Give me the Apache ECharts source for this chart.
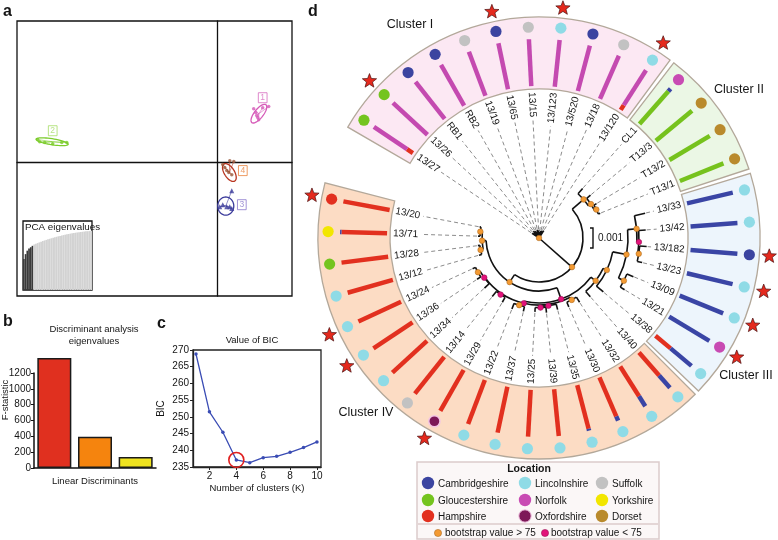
<!DOCTYPE html>
<html><head><meta charset="utf-8">
<script src="https://cdn.jsdelivr.net/npm/echarts@6.0.0/dist/echarts.min.js"></script>
<style>html,body{margin:0;padding:0;background:#fff;}#chart{width:778px;height:540px;}</style>
</head><body><div id="chart"></div>
<script>
const FONT = '"Liberation Sans", Arial, Helvetica, sans-serif';

// ================= Panel a : DAPC scatter =================
const dapcGroups = ['1', '2', '3', '4'];
const dapcPoints1 = [[1.79,1.96],[2.24,2.0],[2.54,2.04],[1.94,1.71],[1.89,1.82],[2.04,1.56],[1.99,1.64]];
const dapcPoints2 = [[-8.97,0.84],[-8.62,0.73],[-8.22,0.69],[-7.52,0.73],[-7.77,0.73],[-8.87,0.76]];
const dapcPoints3 = [[0.25,-1.53],[0.45,-1.6],[0.6,-1.6],[0.7,-1.67],[0.1,-1.6],[0.7,-1.02]];
const dapcPoints4 = [[0.25,-0.07],[0.6,0.07],[0.8,0.04],[0.45,-0.29],[0.55,-0.36],[0.7,-0.44],[0.35,-0.18]];
// ellipse: centre x, centre y, half-axis 1 (x,y), half-axis 2 (x,y), group index
const dapcEllipses = [
  [2.05, 1.78, 0.35, 0.325, 0.177, -0.10, 0],
  [-8.25, 0.76, 0.80, -0.09, 0.0, 0.11, 1],
  [0.40, -1.58, 0.40, 0.0, 0.0, 0.33, 2],
  [0.58, -0.36, 0.27, -0.31, 0.21, 0.10, 3]
];
const dapcLabelPos = [[2.24, 2.36], [-8.22, 1.16], [1.2, -1.53], [1.25, -0.29]];
const pcaEigenvalues = [45,52,57,60,62,64, 66,67,68,69,70,71,71.8,72.6,73.4,74.2,75,75.7,76.4,77.1,77.8,78.4,79,79.6,80.2,80.7,81.2,81.7,82.2,82.6,83,83.4,83.8,84.1,84.4,84.7,85,85.2,85.4,85.6];
const pcaRetained = 6;

// ================= Panel b : discriminant eigenvalues =================
const ldNames = ['LD1', 'LD2', 'LD3'];
const ldFstat = [1388, 396, 140];

// ================= Panel c : BIC =================
const bicK = [1, 2, 3, 4, 5, 6, 7, 8, 9, 10];
const bicValues = [268.8, 251.5, 245.4, 237.1, 236.3, 237.8, 238.2, 239.4, 240.8, 242.5];
const bicTicksX = [2, 4, 6, 8, 10];
const bicChosenK = 4;

// ================= Panel d : circular tree =================
const leaves = ['13/27','13/26','RB1','RB2','13/19','13/65','13/15','13/123','13/520','13/18','13/120',
  'CL1','T13/3','T13/2','T13/1',
  '13/33','13/42','13/182','13/23','13/09','13/21','13/38',
  '13/40','13/32','13/30','13/35','13/39','13/25','13/37','13/22','13/29','13/14','13/34','13/36','13/24','13/12','13/28','13/71','13/20'];
const clusterNames = ['Cluster I', 'Cluster II', 'Cluster III', 'Cluster IV'];
const leafCluster = [0,0,0,0,0,0,0,0,0,0,0, 1,1,1,1, 2,2,2,2,2,2,2, 3,3,3,3,3,3,3,3,3,3,3,3,3,3,3,3,3];
const leafLocation = ['Gloucestershire','Gloucestershire','Cambridgeshire','Cambridgeshire','Suffolk','Cambridgeshire','Suffolk','Lincolnshire','Cambridgeshire','Suffolk','Lincolnshire',
  'Norfolk','Dorset','Dorset','Dorset',
  'Lincolnshire','Lincolnshire','Cambridgeshire','Lincolnshire','Lincolnshire','Norfolk','Lincolnshire',
  'Lincolnshire','Lincolnshire','Lincolnshire','Lincolnshire','Lincolnshire','Lincolnshire','Lincolnshire','Lincolnshire','Oxfordshire','Suffolk','Lincolnshire','Lincolnshire','Lincolnshire','Lincolnshire','Gloucestershire','Yorkshire','Hampshire'];
// cluster membership proportions (stacked from the inside out: IV, I, II, III)
const memIV  = [0.15,0,0,0,0,0,0,0,0,0,0.12, 0,0,0,0, 0,0,0,0,0,0,0.42, 0.65,0.75,0.9,0.96,1,1,1,1,1,1,1,1,1,1,1,0.97,1];
const memI   = [0.85,1,1,1,1,1,1,1,1,1,0.88, 0,0,0,0, 0,0,0,0,0,0,0, 0,0,0,0,0,0,0,0,0,0,0,0,0,0,0,0,0];
const memII  = [0,0,0,0,0,0,0,0,0,0,0, 0.93,1,1,1, 0,0,0,0,0,0,0, 0,0,0,0,0,0,0,0,0,0,0,0,0,0,0,0,0];
const memIII = [0,0,0,0,0,0,0,0,0,0,0, 0.07,0,0,0, 1,1,1,1,1,1,0.58, 0.35,0.25,0.1,0.04,0,0,0,0,0,0,0,0,0,0,0,0.03,0];
const starredLeaves = ['13/26','13/65','13/123','13/120','13/182','13/23','13/09','13/21','13/29','13/36','13/24','13/20'];
// tree: node, parent, distance from root (x0.001 subst./site), bootstrap
const treeNodes = [
  ['root', null, 0, 90],
  ['nI', 'root', 0.12, null],
  ['13/27','nI',0.42,null],['13/26','nI',0.38,null],['RB1','nI',0.45,null],['RB2','nI',0.4,null],
  ['13/19','nI',0.35,null],['13/65','nI',0.42,null],['13/15','nI',0.38,null],['13/123','nI',0.3,null],
  ['13/520','nI',0.36,null],['13/18','nI',0.4,null],['13/120','nI',0.44,null],
  ['nA','root',2.2,96],
  ['nB','nA',2.95,92],
  ['CL1','nB',3.3,null],
  ['nB1','nB',3.1,88],
  ['T13/3','nB1',3.35,null],
  ['nB2','nB1',3.2,86],
  ['T13/2','nB2',3.35,null],['T13/1','nB2',3.3,null],
  ['nD','nA',2.65,90],
  ['nF','nD',3.25,62],
  ['nH','nF',3.55,84],
  ['13/40','nH',3.9,null],
  ['nH1','nH',3.75,88],
  ['13/38','nH1',4.2,null],
  ['nC3','nH1',4.45,90],
  ['nC3a','nC3',4.9,86],
  ['13/33','nC3a',5.45,null],
  ['nC3a1','nC3a',5.0,58],
  ['13/42','nC3a1',5.35,null],
  ['nC3a2','nC3a1',5.05,85],
  ['13/182','nC3a2',5.4,null],['13/23','nC3a2',5.3,null],
  ['nC3b','nC3',4.75,84],
  ['13/09','nC3b',5.1,null],['13/21','nC3b',5.0,null],
  ['nG','nF',3.35,55],
  ['nG1','nG',3.5,84],
  ['13/32','nG1',3.8,null],['13/30','nG1',3.75,null],
  ['nG2','nG',3.42,60],
  ['13/35','nG2',3.7,null],
  ['nG3','nG2',3.48,52],
  ['13/39','nG3',3.75,null],['13/25','nG3',3.7,null],
  ['nG4','nG',3.5,86],
  ['13/37','nG4',3.75,null],['13/22','nG4',3.8,null],
  ['nG5','nG',3.42,64],
  ['13/29','nG5',3.7,null],['13/14','nG5',3.75,null],
  ['nG6','nG',3.38,58],
  ['13/34','nG6',3.7,null],
  ['nG7','nG6',3.5,85],
  ['13/36','nG7',3.72,null],['13/24','nG7',3.66,null],
  ['nE','nD',2.85,91],
  ['nE2','nE',2.98,82],
  ['13/12','nE2',3.12,null],['13/28','nE2',3.08,null],
  ['nE1','nE',2.95,87],
  ['13/71','nE1',3.05,null],['13/20','nE1',3.02,null]
];
const scaleBarValue = 1; // 0.001
const locations = ['Cambridgeshire','Lincolnshire','Suffolk','Gloucestershire','Norfolk','Yorkshire','Hampshire','Oxfordshire','Dorset'];

// ---------------- styles ----------------
const locColor = {Cambridgeshire:'#3b44a0', Lincolnshire:'#8fdbe6', Suffolk:'#c2c2c2', Gloucestershire:'#74c41f',
  Norfolk:'#c84bb3', Yorkshire:'#f2e600', Hampshire:'#e2301f', Oxfordshire:'#7d1858', Dorset:'#b98a2c'};
const clusterFill = ['#fce8f3', '#ebf7e5', '#edf5fc', '#fcdcc4'];
const stackSeries = [memIV, memI, memII, memIII];
const stackColors = ['#e2301f', '#c44ab0', '#76c21d', '#3a45a5'];
const dapcColors = ['#d65cb9', '#7ccc2c', '#3b3b9b', '#b8341f'];
const dapcLabelColors = ['#d76bbf', '#a6dd66', '#8a78cc', '#e8823c'];
const CENTER = [539, 238];
const LABEL_R = 146, DOT_R = 211, STAR_R = 231, SECT_R0 = 149, SECT_R = 221;

const mctx = document.createElement('canvas').getContext('2d');
mctx.font = '10px ' + FONT;
const tw = s => mctx.measureText(s).width;

function leafAngles(api, cx, cy) {
  const out = [];
  for (let i = 0; i < leaves.length; i++) {
    const p = api.coord([1, i]);
    let a = Math.atan2(p[1] - cy, p[0] - cx);
    if (i > 0) { while (a < out[i - 1]) a += 2 * Math.PI; }
    out.push(a);
  }
  return out;
}

function starPoints(x, y, R, r) {
  const pts = [];
  for (let k = 0; k < 10; k++) {
    const a = -Math.PI / 2 + k * Math.PI / 5;
    const rr = k % 2 ? r : R;
    pts.push([x + rr * Math.cos(a), y + rr * Math.sin(a)]);
  }
  return pts;
}

function renderRing(params, api) {
  const cx = CENTER[0], cy = CENTER[1];
  const ang = leafAngles(api, cx, cy);
  const half = (ang[1] - ang[0]) / 2;
  const gap = 0.6 * Math.PI / 180;
  const ch = [];
  for (let k = 0; k < clusterNames.length; k++) {
    const idx = leafCluster.map((c, i) => c === k ? i : -1).filter(i => i >= 0);
    ch.push({type: 'sector', shape: {cx, cy, r0: SECT_R0, r: SECT_R,
      startAngle: ang[idx[0]] - half + gap, endAngle: ang[idx[idx.length - 1]] + half - gap, clockwise: true},
      style: {fill: clusterFill[k], stroke: '#b3a89a', lineWidth: 1.3}});
  }
  leaves.forEach((name, i) => {
    let cum = 0;
    stackSeries.forEach((arr, j) => {
      const v = arr[i];
      if (v > 0) {
        const p0 = api.coord([cum, i]), p1 = api.coord([cum + v, i]);
        ch.push({type: 'line', shape: {x1: p0[0], y1: p0[1], x2: p1[0], y2: p1[1]}, style: {stroke: stackColors[j], lineWidth: 4.5}});
        cum += v;
      }
    });
    const a = ang[i];
    const loc = leafLocation[i];
    ch.push({type: 'circle', shape: {cx: cx + DOT_R * Math.cos(a), cy: cy + DOT_R * Math.sin(a), r: 5.6},
      style: {fill: locColor[loc], stroke: loc === 'Oxfordshire' ? '#f3c6e4' : null, lineWidth: 1.5}});
    if (starredLeaves.indexOf(name) >= 0) {
      ch.push({type: 'polygon', shape: {points: starPoints(cx + STAR_R * Math.cos(a), cy + STAR_R * Math.sin(a), 7.5, 3.2)},
        style: {fill: '#e4291d', stroke: '#4a1010', lineWidth: 0.7}});
    }
  });
  return {type: 'group', children: ch};
}

function renderTree(params, api) {
  const c0 = api.coord([0, 0]);
  const cx = c0[0], cy = c0[1];
  const ang = leafAngles(api, cx, cy);
  const u = api.coord([1, 0]);
  const ppu = Math.hypot(u[0] - cx, u[1] - cy);
  const nodes = {};
  treeNodes.forEach(([id, parent, dist, bs]) => { nodes[id] = {id, parent, dist, bs, children: []}; });
  treeNodes.forEach(([id, parent]) => { if (parent) nodes[parent].children.push(nodes[id]); });
  function angleOf(n) {
    if (n.a !== undefined) return n.a;
    if (!n.children.length) { n.a = ang[leaves.indexOf(n.id)]; }
    else { const as = n.children.map(angleOf); n.min = Math.min(...as); n.max = Math.max(...as); n.a = (n.min + n.max) / 2; }
    return n.a;
  }
  angleOf(nodes.root);
  const pt = (r, a) => [cx + r * Math.cos(a), cy + r * Math.sin(a)];
  const ch = [];
  leaves.forEach((name, i) => {
    const a = ang[i];
    const right = Math.cos(a) > 1e-6;
    const w = tw(name);
    const tip = nodes[name].dist * ppu;
    const p0 = pt(tip + 1, a), p1 = pt(LABEL_R - w - 3, a);
    ch.push({type: 'line', shape: {x1: p0[0], y1: p0[1], x2: p1[0], y2: p1[1]}, style: {stroke: '#8c8c8c', lineWidth: 1, lineDash: [4, 3]}});
    const o = pt(LABEL_R, a);
    ch.push({type: 'text', x: o[0], y: o[1], rotation: right ? -a : -(a + Math.PI),
      style: {text: name, x: 0, y: 0, align: right ? 'right' : 'left', verticalAlign: 'middle', font: '10px ' + FONT, fill: '#151515'}});
  });
  const lineStyle = {stroke: '#111', lineWidth: 1.6, fill: null};
  Object.values(nodes).forEach(n => {
    if (n.parent) {
      const p = nodes[n.parent];
      const a0 = pt(p.dist * ppu, n.a), a1 = pt(n.dist * ppu, n.a);
      ch.push({type: 'line', shape: {x1: a0[0], y1: a0[1], x2: a1[0], y2: a1[1]}, style: lineStyle});
    }
    if (n.children.length > 1 && n.dist > 0) {
      ch.push({type: 'arc', shape: {cx, cy, r: n.dist * ppu, startAngle: n.min, endAngle: n.max, clockwise: true}, style: lineStyle});
    }
  });
  Object.values(nodes).forEach(n => {
    if (n.bs !== null && n.children.length) {
      const p = pt(n.dist * ppu, n.a);
      ch.push({type: 'circle', shape: {cx: p[0], cy: p[1], r: 2.8},
        style: {fill: n.bs >= 75 ? '#f39a33' : '#e2137a', stroke: n.bs >= 75 ? '#a0601a' : '#900a4a', lineWidth: 0.5}});
    }
  });
  const bx = cx + 54, h = scaleBarValue * ppu;
  ch.push({type: 'polyline', shape: {points: [[bx - 3, cy - h / 2], [bx, cy - h / 2], [bx, cy + h / 2], [bx - 3, cy + h / 2]]}, style: {stroke: '#111', lineWidth: 1.4, fill: null}});
  ch.push({type: 'text', x: bx + 5, y: cy, style: {text: (scaleBarValue / 1000).toFixed(3), x: 0, y: 0, align: 'left', verticalAlign: 'middle', font: '10px ' + FONT, fill: '#151515'}});
  return {type: 'group', children: ch};
}

function renderEllipse(params, api) {
  const e = dapcEllipses[params.dataIndex];
  const k = e[6];
  const pts = [];
  for (let t = 0; t < 48; t++) {
    const th = t / 48 * Math.PI * 2;
    pts.push(api.coord([e[0] + e[2] * Math.cos(th) + e[4] * Math.sin(th), e[1] + e[3] * Math.cos(th) + e[5] * Math.sin(th)]));
  }
  const c = api.coord([e[0], e[1]]);
  const grpPts = [dapcPoints1, dapcPoints2, dapcPoints3, dapcPoints4][k];
  const ch = [{type: 'polygon', shape: {points: pts}, style: {fill: null, stroke: dapcColors[k], lineWidth: 1.3}}];
  grpPts.forEach(p => { const q = api.coord(p); ch.push({type: 'line', shape: {x1: c[0], y1: c[1], x2: q[0], y2: q[1]}, style: {stroke: dapcColors[k], lineWidth: 0.7, opacity: 0.8}}); });
  return {type: 'group', children: ch};
}

// ---------------- graphic texts / legend ----------------
const graphics = [];
function gtext(x, y, text, size, opts) {
  graphics.push(Object.assign({type: 'text', x, y, style: Object.assign({text, font: size + 'px ' + FONT, fill: '#151515', align: 'left', verticalAlign: 'top'}, opts && opts.style || {})}, opts && opts.el || {}));
}
gtext(3, 4, 'a', 16, {style: {font: 'bold 16px ' + FONT}});
gtext(3, 314, 'b', 16, {style: {font: 'bold 16px ' + FONT}});
gtext(157, 316, 'c', 16, {style: {font: 'bold 16px ' + FONT}});
gtext(308, 4, 'd', 16, {style: {font: 'bold 16px ' + FONT}});
gtext(94, 323, 'Discriminant analysis\neigenvalues', 9.5, {style: {align: 'center', lineHeight: 12}});
gtext(252, 335, 'Value of BIC', 9.5, {style: {align: 'center'}});
gtext(25, 222, 'PCA eigenvalues', 9.8, {});
gtext(5, 400, 'F-statistic', 9.5, {style: {align: 'center', verticalAlign: 'middle'}, el: {rotation: Math.PI / 2}});
const clusterLabelPos = [[410, 25], [739, 90], [746, 376], [366, 413]];
clusterNames.forEach((n, i) => gtext(clusterLabelPos[i][0], clusterLabelPos[i][1], n, 12.5, {style: {align: 'center', verticalAlign: 'middle'}}));
graphics.push({type: 'rect', shape: {x: 417, y: 462, width: 242, height: 77}, style: {fill: '#fbf7f7', stroke: '#dccbcb', lineWidth: 1.5}});
gtext(529, 469, 'Location', 10.5, {style: {align: 'center', verticalAlign: 'middle', font: 'bold 10.5px ' + FONT}});
const legColX = [428, 525, 602], legRowY = [483, 500, 516];
locations.forEach((loc, k) => {
  const x = legColX[k % 3], y = legRowY[Math.floor(k / 3)];
  graphics.push({type: 'circle', shape: {cx: x, cy: y, r: 6.2}, style: {fill: locColor[loc], stroke: loc === 'Oxfordshire' ? '#f3c6e4' : null, lineWidth: 1}});
  gtext(x + 10, y + 1, loc, 10, {style: {verticalAlign: 'middle'}});
});
graphics.push({type: 'line', shape: {x1: 418, y1: 524, x2: 658, y2: 524}, style: {stroke: '#dccbcb', lineWidth: 1.5}});
graphics.push({type: 'circle', shape: {cx: 438, cy: 533, r: 3.6}, style: {fill: '#f39a33', stroke: '#a0601a', lineWidth: 0.5}});
gtext(445, 533, 'bootstrap value > 75', 10, {style: {verticalAlign: 'middle'}});
graphics.push({type: 'circle', shape: {cx: 545, cy: 533, r: 3.6}, style: {fill: '#e2137a', stroke: '#900a4a', lineWidth: 0.5}});
gtext(551, 533, 'bootstrap value < 75', 10, {style: {verticalAlign: 'middle'}});

const hiddenAxis = {axisLine: {show: false}, axisTick: {show: false}, axisLabel: {show: false}, splitLine: {show: false}};
const angleCommon = Object.assign({type: 'category', data: leaves, startAngle: 150.5, endAngle: -195.04, clockwise: true}, hiddenAxis);

const option = {
  animation: false,
  backgroundColor: '#ffffff',
  textStyle: {fontFamily: FONT, color: '#151515'},
  grid: [
    {left: 17, top: 21, width: 275, height: 275, show: true, borderColor: '#111', borderWidth: 1.3, backgroundColor: 'transparent'},
    {left: 23, top: 221, width: 69, height: 69, show: true, borderColor: '#111', borderWidth: 1.3, backgroundColor: '#fff'},
    {left: 34, top: 373, width: 122, height: 95},
    {left: 193, top: 350, width: 128, height: 117, show: true, borderColor: '#222', borderWidth: 1.3, backgroundColor: 'transparent'}
  ],
  xAxis: [
    {gridIndex: 0, type: 'value', min: -10, max: 3.7, axisLine: {onZero: true, lineStyle: {color: '#111', width: 1.3}}, axisTick: {show: false}, axisLabel: {show: false}, splitLine: {show: false}},
    {gridIndex: 1, type: 'category', data: pcaEigenvalues.map((_, i) => i + 1), show: false},
    {gridIndex: 2, type: 'category', data: ldNames, axisLine: {lineStyle: {color: '#111', width: 1.5}}, axisTick: {show: false}, axisLabel: {show: false},
      name: 'Linear Discriminants', nameLocation: 'middle', nameGap: 8, nameTextStyle: {fontSize: 9.5, color: '#151515'}},
    {gridIndex: 3, type: 'value', min: 0.777, max: 10.3, axisLine: {lineStyle: {color: '#222', width: 1.3}},
      axisTick: {show: true, customValues: bicTicksX, length: 3, lineStyle: {color: '#222'}},
      axisLabel: {customValues: bicTicksX, fontSize: 10, color: '#151515', margin: 4}, splitLine: {show: false},
      name: 'Number of clusters (K)', nameLocation: 'middle', nameGap: 16, nameTextStyle: {fontSize: 9.5, color: '#151515'}}
  ],
  yAxis: [
    {gridIndex: 0, type: 'value', min: -4.85, max: 5.15, axisLine: {onZero: true, lineStyle: {color: '#111', width: 1.3}}, axisTick: {show: false}, axisLabel: {show: false}, splitLine: {show: false}},
    {gridIndex: 1, type: 'value', min: 0, max: 100, show: false},
    {gridIndex: 2, type: 'value', min: 0, max: 1200, interval: 200, axisLine: {show: true, lineStyle: {color: '#111', width: 1.5}},
      axisTick: {show: true, length: 3, lineStyle: {color: '#111'}}, axisLabel: {fontSize: 10, color: '#151515', margin: 3, formatter: v => String(v)}, splitLine: {show: false}},
    {gridIndex: 3, type: 'value', min: 235, max: 270, interval: 5, axisLine: {show: true, lineStyle: {color: '#222', width: 1.3}},
      axisTick: {show: true, length: 3, lineStyle: {color: '#222'}}, axisLabel: {fontSize: 10, color: '#151515', margin: 4}, splitLine: {show: false},
      name: 'BIC', nameLocation: 'middle', nameGap: 27, nameTextStyle: {fontSize: 10, color: '#151515'}}
  ],
  polar: [
    {center: CENTER, radius: [0, 125]},
    {center: CENTER, radius: [152, 199]}
  ],
  angleAxis: [
    Object.assign({polarIndex: 0}, angleCommon),
    Object.assign({polarIndex: 1}, angleCommon)
  ],
  radiusAxis: [
    Object.assign({polarIndex: 0, type: 'value', min: 0, max: 6.25}, hiddenAxis),
    Object.assign({polarIndex: 1, type: 'value', min: 0, max: 1}, hiddenAxis)
  ],
  graphic: {elements: graphics},
  series: [
    {type: 'custom', xAxisIndex: 0, yAxisIndex: 0, data: dapcEllipses, encode: {x: 0, y: 1}, renderItem: renderEllipse, silent: true, z: 2},
    {type: 'scatter', xAxisIndex: 0, yAxisIndex: 0, data: dapcPoints1, symbol: 'circle', symbolSize: 3.5, itemStyle: {color: dapcColors[0]}, z: 3},
    {type: 'scatter', xAxisIndex: 0, yAxisIndex: 0, data: dapcPoints2, symbol: 'circle', symbolSize: 3.5, itemStyle: {color: dapcColors[1]}, z: 3},
    {type: 'scatter', xAxisIndex: 0, yAxisIndex: 0, data: dapcPoints3, symbol: 'triangle', symbolSize: 5, itemStyle: {color: dapcColors[2]}, z: 3},
    {type: 'scatter', xAxisIndex: 0, yAxisIndex: 0, data: dapcPoints4, symbol: 'circle', symbolSize: 3.5, itemStyle: {color: '#9b5a3c'}, z: 3},
    {type: 'scatter', xAxisIndex: 0, yAxisIndex: 0, symbolSize: 1, itemStyle: {color: 'transparent'}, z: 4,
      data: dapcLabelPos.map((p, i) => ({value: p, label: {color: dapcLabelColors[i], borderColor: dapcLabelColors[i]}})),
      label: {show: true, position: 'inside', formatter: p => dapcGroups[p.dataIndex], fontSize: 8.5, borderWidth: 1, padding: [1, 2, 0, 2]}},
    {type: 'bar', xAxisIndex: 1, yAxisIndex: 1, barCategoryGap: '0%', silent: true,
      data: pcaEigenvalues.map((v, i) => ({value: v, itemStyle: {color: i < pcaRetained ? '#3a3a3a' : '#d2d2d2'}}))},
    {type: 'bar', xAxisIndex: 2, yAxisIndex: 2, barWidth: 34, clip: false,
      itemStyle: {borderColor: '#1a1a1a', borderWidth: 1.5},
      data: ldFstat.map((v, i) => ({value: v, itemStyle: {color: ['#e0301f', '#f5840e', '#efe31f'][i]}}))},
    {type: 'line', xAxisIndex: 3, yAxisIndex: 3, data: bicK.map((k, i) => [k, bicValues[i]]), symbol: 'circle', symbolSize: 3.5,
      lineStyle: {color: '#3a4cb4', width: 1.3}, itemStyle: {color: '#3a4cb4'},
      markPoint: {symbol: 'circle', symbolSize: 15, label: {show: false}, itemStyle: {color: 'transparent', borderColor: '#e02020', borderWidth: 1.6},
        data: [{coord: [bicChosenK, bicValues[bicChosenK - 1]]}]}},
    {type: 'custom', coordinateSystem: 'polar', polarIndex: 1, data: [[0, 0]], renderItem: renderRing, silent: true, z: 1},
    {type: 'custom', coordinateSystem: 'polar', polarIndex: 0, data: [[0, 0]], renderItem: renderTree, silent: true, z: 3}
  ]
};
const chart = echarts.init(document.getElementById('chart'), null, {renderer: 'canvas'});
chart.setOption(option);
</script></body></html>
